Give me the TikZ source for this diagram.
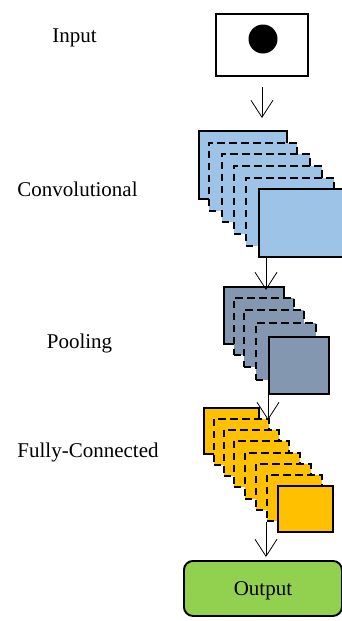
\documentclass[tikz,border=0pt]{standalone}
\usepackage{fontspec}
\setmainfont{Liberation Serif}
\usepackage{xcolor}
\usetikzlibrary{arrows.meta,positioning}
\definecolor{convblue}{HTML}{9DC3E6}
\definecolor{poolblue}{HTML}{8497B0}
\definecolor{fcorange}{HTML}{FFC000}
\definecolor{outgreen}{HTML}{92D050}
\tikzset{layer/.style={rectangle,draw,anchor=north west,inner sep=0pt,line width=1.9pt},
  conv/.style={layer,fill=convblue,minimum width=88pt,minimum height=68pt},
  pool/.style={layer,fill=poolblue,minimum width=60pt,minimum height=57pt},
  full/.style={layer,fill=fcorange,minimum width=55pt,minimum height=46pt},
  hid/.style={dash pattern=on 7.5pt off 4.5pt},
  lbl/.style={anchor=base,font=\fontsize{21}{25}\selectfont},
  arr/.style={-{Straight Barb[length=17pt,width=22pt]},line width=0.8pt}}

\begin{document}
\begin{tikzpicture}[x=1pt,y=-1pt]
        \useasboundingbox (0,0) rectangle (342,621);

        \node[lbl] (tin)at (74.5,42) {Input};
        \node[lbl] (tconv)at (77.5,196) {Convolutional};
        \node[lbl] (tpool)at (79.5,348) {Pooling};
        \node[lbl] (tfull)at (88,457) {Fully-Connected};

        \node[layer,fill=white,minimum width=92pt,minimum height=62pt] (in)at (215,13) {};
        \node[circle,fill,minimum size=29pt,inner sep=0pt] (dot)at (263,39) {};

        \node[conv] (c1)at (198,130) {};
        \node[conv,hid] (c2)at (208,142) {};
        \node[conv,hid] (c3)at (221,153) {};
        \node[conv,hid] (c4)at (233,165) {};
        \node[conv,hid] (c5)at (245,177) {};
        \node[conv] (c6)at (258,188) {};

        \node[pool] (p1)at (223,286) {};
        \node[pool,hid] (p2)at (233,297) {};
        \node[pool,hid] (p3)at (243,309) {};
        \node[pool,hid] (p4)at (255,322) {};
        \node[pool] (p5)at (268,336) {};

        \node[full] (f1)at (203,407) {};
        \node[full,hid] (f2)at (213,418) {};
        \node[full,hid] (f3)at (223,429) {};
        \node[full,hid] (f4)at (233,440) {};
        \node[full,hid] (f5)at (244,452) {};
        \node[full,hid] (f6)at (255,463) {};
        \node[full,hid] (f7)at (266,474) {};
        \node[full] (f8)at (277,485) {};

        \node[layer,fill=outgreen,rounded corners=9pt,minimum width=158pt,minimum height=55pt,
              text depth=0pt,font=\fontsize{21}{25}\selectfont] (out)at (183,560) {Output};

        \coordinate (a2) at ([xshift=8pt]c6.south west);
        \draw [arr,shorten <=10pt,shorten >=12pt] (in) to (in |- c1.north);
        \draw [arr,shorten >=-4pt] (a2) to (a2 |- p1.north);
        \draw [arr,shorten >=-2pt] (p5.south west) to (p5.south west |- f2.north);
        \draw [arr,shorten >=3pt] (f7.south west) to (f7.south west |- out.north);
    \end{tikzpicture}
\end{document}
